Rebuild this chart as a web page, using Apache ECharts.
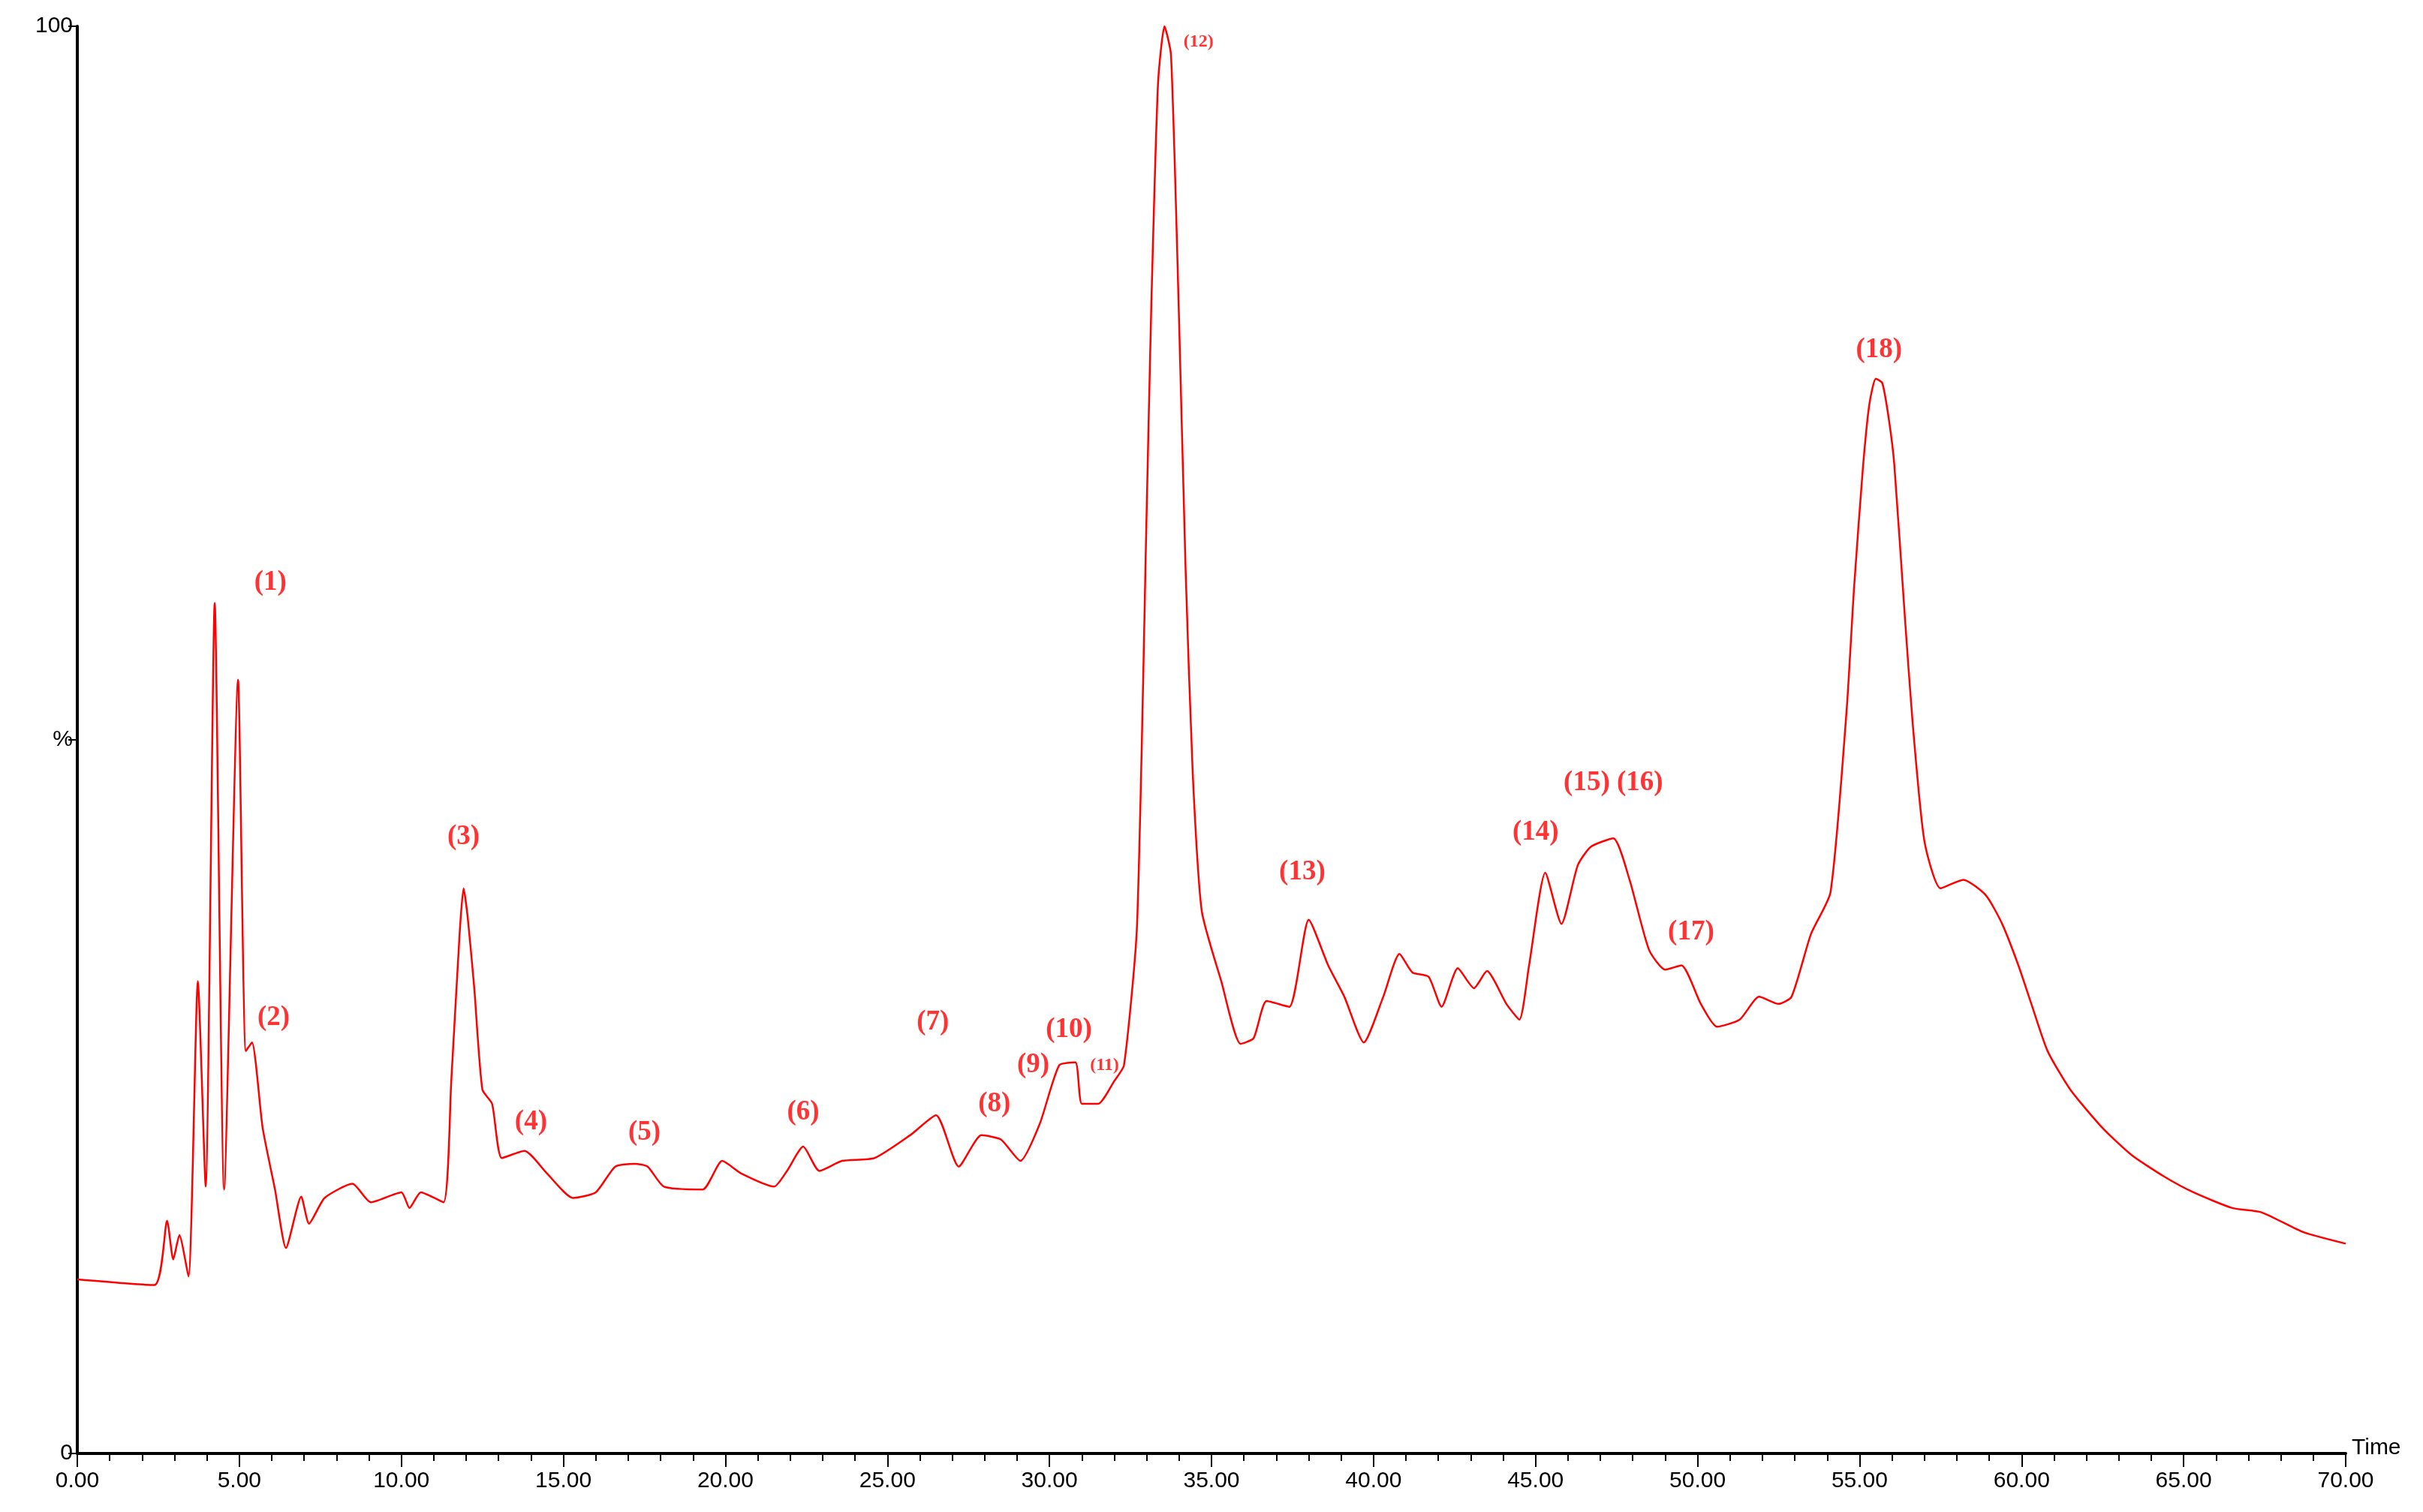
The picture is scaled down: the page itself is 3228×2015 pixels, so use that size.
<!DOCTYPE html>
<html><head><meta charset="utf-8">
<script src="https://cdn.jsdelivr.net/npm/echarts@6/dist/echarts.min.js"></script>
<style>html,body{margin:0;padding:0;background:#fff}#c{width:3228px;height:2015px}</style>
</head><body><div id="c"></div>
<script>
const times = [0,2.38,2.77,2.96,3.15,3.43,3.72,3.96,4.24,4.53,4.96,5.2,5.39,5.72,6.1,6.44,6.91,7.15,7.63,8.49,9.06,10.0,10.25,10.6,11.3,11.54,11.8,11.92,12.05,12.25,12.5,12.8,13.1,13.8,14.5,15.3,16.0,16.6,17.2,17.6,18.1,19.3,19.9,20.5,21.5,21.9,22.4,22.9,23.6,24.6,25.7,26.5,27.2,27.9,28.5,29.1,29.7,30.3,30.8,31.0,31.5,32.0,32.3,32.7,33.0,33.14,33.35,33.55,33.75,33.99,34.2,34.42,34.7,35.3,35.9,36.3,36.7,37.4,38.0,38.6,39.1,39.7,40.3,40.8,41.2,41.7,42.1,42.6,43.1,43.5,44.1,44.5,44.8,45.3,45.8,46.3,46.7,47.4,47.9,48.5,49.0,49.5,50.1,50.6,51.3,51.9,52.5,52.9,53.5,54.1,54.6,54.83,55.1,55.3,55.5,55.7,55.9,56.07,56.4,56.64,57.0,57.5,58.2,58.9,59.4,59.9,60.3,60.8,61.5,62.5,63.4,64.4,65.3,66.5,67.4,68.7,70];
const intensity = [12.2,11.8,16.3,13.6,15.3,12.4,33.1,18.7,59.6,18.5,54.2,28.2,28.8,22.8,18.5,14.4,18,16.1,17.9,18.9,17.6,18.3,17.2,18.3,17.6,26.1,36.5,39.6,37.5,32.6,25.5,24.5,20.7,21.2,19.6,17.9,18.3,20.1,20.3,20.1,18.7,18.5,20.5,19.6,18.7,19.8,21.5,19.8,20.5,20.7,22.3,23.7,20.1,22.3,22,20.5,23.1,27.2,27.4,24.5,24.5,26.1,27.2,36.9,66.1,80.2,96,100,98,80.2,62,47.7,38,33.1,28.7,29.1,31.7,31.3,37.4,34.2,32.0,28.8,32,35,33.7,33.4,31.3,34,32.6,33.8,31.5,30.4,34.2,40.7,37.1,41.2,42.5,43.1,40.2,35.3,33.9,34.2,31.5,29.9,30.4,32,31.5,32,36.4,39.3,52.1,60.7,69,73.5,75.3,75,72.5,69.3,58.5,51.1,42.9,39.6,40.2,39.1,37.1,34.2,31.5,28.2,25.5,22.8,20.9,19.4,18.3,17.2,16.9,15.5,14.7];
const peakLabels = ['(1)','(2)','(3)','(4)','(5)','(6)','(7)','(8)','(9)','(10)','(11)','(12)','(13)','(14)','(15) (16)','(17)','(18)'];
const peakT = [5.96,6.06,11.92,14.0,17.5,22.4,26.4,28.3,29.5,30.6,31.7,34.6,37.8,45.0,47.4,49.8,55.6];
const peakY = [61,30.5,43.2,23.2,22.5,23.9,30.2,24.5,27.2,29.7,27.2,98.9,40.7,43.5,47,36.5,77.3];
const smallPeaks = ['(11)','(12)'];

const chart = echarts.init(document.getElementById('c'));
chart.setOption({
  animation:false,
  backgroundColor:'#fff',
  grid:{left:103,right:103,top:35,bottom:78},
  xAxis:{type:'value',min:0,max:70,interval:5,
    name:'Time',nameLocation:'end',nameGap:8,
    nameTextStyle:{fontFamily:'Liberation Sans',fontSize:30,color:'#000',verticalAlign:'bottom',padding:[0,0,-8,0]},
    axisLine:{lineStyle:{color:'#000',width:4}},
    axisTick:{length:18,lineStyle:{color:'#000',width:2}},
    minorTick:{show:true,splitNumber:5,length:10,lineStyle:{color:'#000',width:2}},
    axisLabel:{fontFamily:'Liberation Sans',fontSize:30,color:'#000',margin:22,formatter:v=>v.toFixed(2)},
    splitLine:{show:false}},
  yAxis:{type:'value',min:0,max:100,interval:50,
    axisLine:{show:true,lineStyle:{color:'#000',width:4}},
    axisTick:{show:true,length:12,lineStyle:{color:'#000',width:2}},
    axisLabel:{fontFamily:'Liberation Sans',fontSize:30,color:'#000',margin:6,formatter:v=>v===50?'%':String(v)},
    splitLine:{show:false}},
  series:[
    {type:'line',data:times.map((t,i)=>[t,intensity[i]]),showSymbol:false,symbol:'none',smooth:0.2,
     lineStyle:{color:'#ff0000',width:2.5}},
    {type:'scatter',symbolSize:0,silent:true,
     data:peakT.map((t,i)=>({value:[t,peakY[i]],name:peakLabels[i],
       label:{fontSize:smallPeaks.includes(peakLabels[i])?24:37}})),
     label:{show:true,position:'inside',formatter:p=>p.name,color:'#ff0000',fontFamily:'Liberation Serif',fontWeight:'bold',fontSize:37},
     labelLayout:{hideOverlap:false}}
  ]
});
</script></body></html>
